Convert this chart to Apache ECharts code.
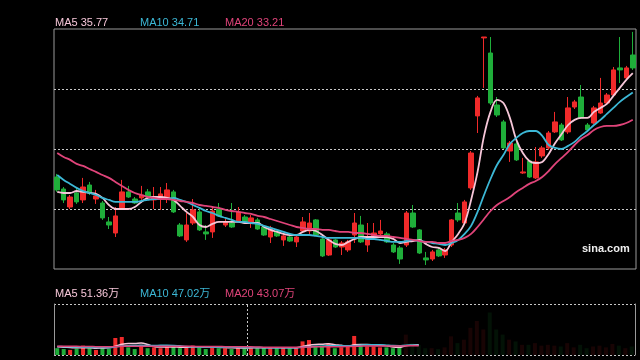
<!DOCTYPE html>
<html><head><meta charset="utf-8">
<script src="https://cdn.jsdelivr.net/npm/echarts@6/dist/echarts.min.js"></script>
<style>html,body{margin:0;padding:0;background:#000}#c{width:640px;height:360px}</style>
</head><body><div id="c"></div>
<script>
const categories = Array.from({length: 90}, (_, i) => 'D' + (i + 1));

const openP = [30.06,29.40,28.41,29.18,28.80,29.62,28.85,28.63,27.59,26.98,
28.36,29.24,28.85,28.91,29.24,28.80,28.85,28.91,29.24,27.42,
26.60,27.53,28.14,27.04,27.04,28.30,27.42,27.53,27.64,27.86,
27.59,27.70,27.31,26.76,27.09,26.60,26.76,26.49,27.09,27.09,
27.70,26.65,25.77,26.60,26.21,26.05,26.87,27.42,26.32,26.76,
26.93,26.93,26.32,26.16,26.32,28.08,27.15,25.61,25.55,26.05,
25.77,26.32,28.08,27.53,29.46,33.42,37.71,36.88,34.02,33.09,
31.49,31.88,30.28,30.94,30.01,31.22,31.66,32.54,32.92,32.54,
33.91,34.46,32.92,33.03,33.58,34.13,34.57,36.06,35.51,36.77];
const closeP = [29.35,28.80,28.96,28.69,29.51,29.18,29.02,27.81,27.42,27.92,
29.24,28.96,28.63,29.07,28.96,28.96,29.13,29.35,28.14,26.82,
27.42,28.25,27.15,26.93,28.19,27.92,27.59,27.31,28.14,27.53,
27.81,27.20,26.87,27.26,26.82,26.82,26.54,26.76,27.59,27.53,
26.87,25.72,26.60,26.21,26.43,26.49,27.53,26.49,26.71,26.98,
27.09,26.49,25.94,25.55,28.08,27.31,25.88,25.50,25.94,25.72,
26.05,27.70,27.70,28.69,31.38,34.41,37.76,34.13,33.47,31.66,
31.93,31.00,30.34,30.06,30.89,31.66,32.48,33.09,32.10,33.86,
34.19,33.31,32.65,33.86,34.13,34.57,35.95,35.95,36.06,36.06];
const lowP = [29.24,28.63,28.30,28.58,28.63,29.07,28.58,27.70,27.20,26.76,
28.25,28.91,28.58,28.80,28.91,28.30,28.25,28.63,28.08,26.76,
26.49,27.42,27.09,26.60,26.71,27.86,27.31,27.26,27.59,27.48,
27.26,27.15,26.82,26.43,26.76,26.27,26.49,26.21,26.98,26.82,
26.82,25.66,25.72,26.16,25.77,25.94,26.43,26.43,25.94,26.65,
26.71,26.43,25.88,25.28,26.21,27.26,25.83,25.22,25.44,25.66,
25.61,26.21,27.59,27.48,29.35,32.48,34.96,34.02,33.36,31.60,
30.89,30.94,30.23,30.01,29.95,31.11,31.55,32.48,32.04,32.43,
33.80,33.25,32.59,32.98,33.53,34.08,34.52,35.23,35.40,35.95];
const highP = [30.23,29.51,29.07,29.51,30.01,29.79,29.35,28.74,27.86,28.41,
29.90,29.57,28.96,29.57,29.40,29.51,29.51,29.73,29.35,27.53,
28.08,28.85,28.36,27.42,28.36,28.63,27.75,28.63,28.41,27.97,
27.97,27.81,27.42,27.37,27.20,26.93,26.87,26.87,27.86,28.08,
27.75,26.76,26.71,26.65,26.54,26.60,28.08,27.92,27.53,27.53,
27.70,27.04,26.43,26.27,28.19,28.52,27.20,25.94,26.05,26.16,
26.16,27.75,28.63,28.80,31.49,34.52,37.76,37.76,34.46,33.20,
32.04,31.99,31.11,31.00,31.71,31.77,32.59,33.64,33.03,34.46,
34.30,35.12,33.03,33.97,35.51,34.68,36.11,37.76,36.17,38.04];

const ma5 = [29.24,29.18,29.18,29.29,29.24,29.18,29.13,28.91,28.52,28.30,
28.30,28.30,28.41,28.69,28.91,28.96,28.96,28.91,28.80,28.47,
28.14,27.86,27.42,27.31,27.48,27.59,27.59,27.59,27.59,27.53,
27.53,27.53,27.31,27.15,27.04,26.93,26.87,26.87,27.04,27.15,
27.09,26.87,26.60,26.38,26.32,26.49,26.65,26.76,26.76,26.76,
26.76,26.76,26.65,26.43,26.49,26.54,26.60,26.38,26.21,26.16,
25.99,26.49,26.93,27.53,28.80,30.34,32.32,33.64,34.30,34.13,
33.31,32.10,31.38,30.94,30.83,30.89,31.33,31.93,32.43,32.92,
33.20,33.31,33.31,33.64,33.86,34.08,34.52,34.96,35.40,35.77];
const ma10 = [30.17,29.90,29.68,29.46,29.29,29.18,29.07,28.91,28.80,28.69,
28.69,28.69,28.69,28.74,28.80,28.85,28.85,28.85,28.91,28.80,
28.69,28.52,28.36,28.19,28.08,27.92,27.81,27.70,27.59,27.59,
27.53,27.48,27.37,27.26,27.15,27.04,26.93,26.87,26.87,26.87,
26.82,26.76,26.71,26.71,26.71,26.71,26.71,26.71,26.65,26.65,
26.60,26.54,26.49,26.49,26.54,26.60,26.54,26.49,26.43,26.38,
26.32,26.43,26.60,26.93,27.37,28.14,29.07,29.95,30.72,31.27,
31.88,32.21,32.48,32.59,32.59,32.32,31.82,31.66,31.60,31.77,
31.99,32.32,32.59,32.92,33.20,33.53,33.86,34.19,34.46,34.71];
const ma20 = [31.38,31.16,31.00,30.78,30.67,30.50,30.34,30.17,30.01,29.79,
29.57,29.35,29.18,29.07,28.96,28.91,28.85,28.85,28.80,28.74,
28.69,28.63,28.52,28.47,28.41,28.36,28.25,28.19,28.14,28.08,
28.03,27.92,27.86,27.75,27.64,27.53,27.42,27.31,27.26,27.20,
27.20,27.15,27.15,27.09,27.04,27.04,26.98,26.98,26.93,26.87,
26.82,26.82,26.76,26.71,26.65,26.60,26.54,26.49,26.49,26.43,
26.43,26.54,26.60,26.71,26.93,27.31,27.75,28.19,28.52,28.74,
28.96,29.24,29.46,29.68,29.84,30.06,30.39,30.78,31.11,31.44,
31.82,32.15,32.37,32.65,32.81,32.87,32.87,32.92,33.03,33.21];

// volume, in 万 shares
const volume = [40,35,30,38,55,40,30,45,35,100,
106,45,35,60,40,45,40,50,55,40,
45,55,45,35,50,40,40,35,45,40,
45,40,45,40,40,45,40,45,80,88,
50,55,70,40,45,50,112,55,50,50,
45,45,40,45,120,70,60,40,40,35,
45,110,70,90,160,200,150,250,150,120,
90,80,60,60,70,55,60,55,50,70,
45,60,40,50,55,45,65,55,40,50];
const volMa5 = [48,46,44,42,42,42,40,41,42,52,
63,68,68,70,62,50,47,47,47,46,
46,48,48,47,46,45,44,42,41,41,
42,42,42,42,42,42,42,42,50,58,
62,63,66,61,57,52,60,62,62,60,
58,54,47,45,55,58,60,null,null,null,
null,null,null,null,null,null,null,null,null,null,
null,null,null,null,null,null,null,null,null,null,
null,null,null,null,null,null,null,null,null,null];
const volMa10 = [50,49,48,47,46,45,44,44,43,47,
53,55,56,57,56,56,57,57,56,54,
50,48,47,47,46,46,46,46,45,44,
44,44,43,43,42,42,42,42,45,48,
51,52,54,54,54,54,55,58,60,60,
60,58,56,55,58,58,58,null,null,null,
null,null,null,null,null,null,null,null,null,null,
null,null,null,null,null,null,null,null,null,null,
null,null,null,null,null,null,null,null,null,null];
const volMa20 = [52,52,51,51,50,50,49,49,48,49,
51,52,52,52,52,52,52,52,52,52,
51,51,50,50,50,50,49,49,48,48,
48,47,46,46,45,45,45,45,46,47,
48,48,49,49,49,50,51,52,53,53,
53,53,53,53,54,55,55,null,null,null,
null,null,null,null,null,null,null,null,null,null,
null,null,null,null,null,null,null,null,null,null,
null,null,null,null,null,null,null,null,null,null];

const legendMain = ['MA5 35.77', 'MA10 34.71', 'MA20 33.21'];
const legendVol = ['MA5 51.36万', 'MA10 47.02万', 'MA20 43.07万'];

const UP = '#f02a2a', DOWN = '#1fae3a';
const C5 = '#f6c6d8', C10 = '#3cb8d6', C20 = '#e0447a';
const FADE_FROM = 54;

const kData = openP.map((o, i) => [o, closeP[i], lowP[i], highP[i]]);
const volData = volume.map((v, i) => {
  const up = closeP[i] >= openP[i];
  return { value: v, itemStyle: { color: up ? UP : DOWN, opacity: i >= FADE_FROM ? 0.1 : 1 } };
});

const chart = echarts.init(document.getElementById('c'), null, { renderer: 'canvas' });
const lineS = (name, data, color, xi, yi, w) => ({
  name, type: 'line', data, xAxisIndex: xi, yAxisIndex: yi, showSymbol: false,
  smooth: 0.35, connectNulls: false, lineStyle: { color, width: w }, itemStyle: { color }, z: 5
});
const dotted = { color: '#c8c8c8', type: [2, 2], width: 1 };
const hidden = { axisLine: { show: false }, axisTick: { show: false }, axisLabel: { show: false }, splitLine: { show: false } };
const FONT = '11px "Liberation Sans", Arial, "Noto Sans CJK SC", sans-serif';

chart.setOption({
  animation: false,
  backgroundColor: '#000',
  grid: [
    { left: 54, top: 29, width: 582, height: 240, show: true, borderColor: '#9a9a9a', borderWidth: 1, backgroundColor: 'transparent' },
    { left: 54, top: 304, width: 581, height: 51 }
  ],
  xAxis: [
    Object.assign({ type: 'category', data: categories, gridIndex: 0, boundaryGap: true }, hidden),
    Object.assign({ type: 'category', data: categories, gridIndex: 1, boundaryGap: true }, hidden),
    Object.assign({ type: 'value', gridIndex: 1, min: 0, max: 90 }, hidden)
  ],
  yAxis: [
    Object.assign({ type: 'value', gridIndex: 0, min: 25, max: 38.2, scale: true }, hidden),
    Object.assign({ type: 'value', gridIndex: 0, min: 0, max: 4, interval: 1 }, hidden,
      { splitLine: { show: true, showMinLine: false, showMaxLine: false, lineStyle: dotted } }),
    Object.assign({ type: 'value', gridIndex: 1, min: 0, max: 300 }, hidden,
      { axisLine: { show: true, lineStyle: { color: '#9a9a9a', width: 1 } } }),
    Object.assign({ type: 'value', gridIndex: 1, min: 0, max: 1, interval: 1, position: 'right' }, hidden,
      { axisLine: { show: true, lineStyle: { color: '#9a9a9a', width: 1 } }, splitLine: { show: true, lineStyle: dotted } })
  ],
  series: [
    {
      type: 'candlestick', data: kData, xAxisIndex: 0, yAxisIndex: 0, barWidth: 5,
      itemStyle: { color: UP, color0: DOWN, borderColor: UP, borderColor0: DOWN, borderWidth: 1 }
    },
    lineS('MA5', ma5, C5, 0, 0, 1.8),
    lineS('MA10', ma10, C10, 0, 0, 1.8),
    lineS('MA20', ma20, C20, 0, 0, 1.8),
    { type: 'bar', data: volData, xAxisIndex: 1, yAxisIndex: 2, barWidth: 4 },
    lineS('VMA5', volMa5, C5, 1, 2, 1.5),
    lineS('VMA10', volMa10, C10, 1, 2, 1.5),
    lineS('VMA20', volMa20, C20, 1, 2, 1.5),
    {
      type: 'line', data: [], xAxisIndex: 2, yAxisIndex: 3,
      markLine: { silent: true, symbol: 'none', label: { show: false }, lineStyle: dotted, data: [{ xAxis: 30 }] }
    }
  ],
  graphic: [
    { type: 'text', left: 55, top: 17, style: { text: legendMain[0], fill: C5, font: FONT } },
    { type: 'text', left: 140, top: 17, style: { text: legendMain[1], fill: C10, font: FONT } },
    { type: 'text', left: 225, top: 17, style: { text: legendMain[2], fill: C20, font: FONT } },
    { type: 'text', left: 55, top: 288, style: { text: legendVol[0], fill: C5, font: FONT } },
    { type: 'text', left: 140, top: 288, style: { text: legendVol[1], fill: C10, font: FONT } },
    { type: 'text', left: 225, top: 288, style: { text: legendVol[2], fill: C20, font: FONT } },
    { type: 'text', left: 582, top: 243, style: { text: 'sina.com', fill: '#f0f0f0', font: 'bold 11px "Liberation Sans", Arial, sans-serif' } }
  ]
});
</script></body></html>
